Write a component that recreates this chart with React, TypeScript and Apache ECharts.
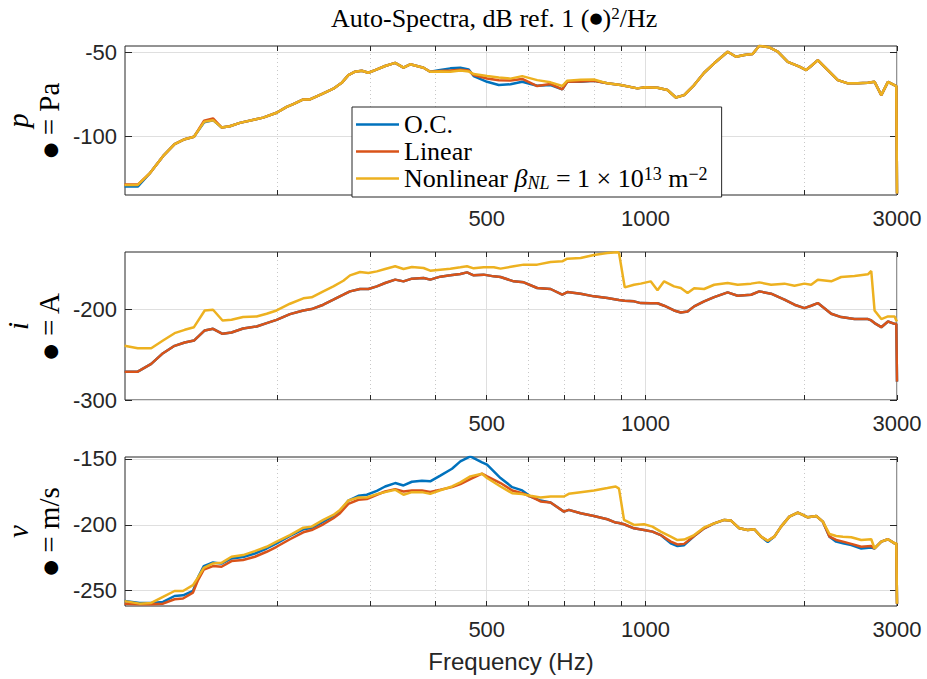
import React, { useEffect, useRef } from "react";
import * as echarts from "echarts";

// ---------- data (frequency in Hz, levels in dB) ----------
const xMajorTicks = [500, 1000, 3000];
const xMinorTicks = [200, 300, 400, 600, 700, 800, 900, 2000];

// Panel 1: pressure p
const pFreq = [102.8,108.9,114.7,121.6,127.9,133.7,139.2,145.5,151.3,157,162.8,170.1,181.6,188.3,199.7,208.7,214.8,224.4,231,243.2,255.9,265.4,273.2,281.3,289.7,298.2,307.1,320.8,335.2,347.6,357.9,379.4,390.6,408.2,426.5,445.6,462.1,472.2,500.7,526.9,554.6,583.8,623.3,660.7,695.3,710.7,753.4,798.5,846.8,897.4,965.6,993.9,1054,1101,1142,1184,1237,1292,1350,1432,1485,1540,1597,1644,1718,1782,1862,1959,2018,2062,2123,2218,2317,2421,2529,2642,2720,2801,2884,2991,3000];
const pOC = [-130,-130,-122.2,-111.9,-104.8,-101.8,-100.4,-91.8,-90.5,-94.8,-94.1,-92.1,-90.1,-89,-86.1,-82.6,-81,-78.2,-78.2,-75,-71.8,-68.3,-63.7,-61.7,-61.1,-62.3,-60.7,-58.3,-56.4,-59.3,-57.3,-59.3,-61.7,-60.7,-59.7,-59.3,-60.3,-64.3,-67.7,-69.6,-69.2,-67.7,-70,-69.6,-72.2,-67.7,-67.7,-67.1,-68.6,-69.6,-71.6,-71,-71.2,-72.6,-77,-75.6,-69.6,-62.3,-56.7,-49.8,-52.8,-51.8,-51.2,-46.3,-47.2,-49.8,-55.8,-58.7,-60.7,-58.3,-54.8,-60.7,-66.7,-68.6,-68.6,-68.3,-67.7,-75.6,-67.7,-70.2,-134.1];
const pLin = [-128.8,-128.8,-122.2,-111.9,-104.8,-101.8,-100.4,-90.8,-89.5,-94.8,-94.1,-92.1,-90.1,-89,-86.1,-82.6,-81,-78.2,-78.2,-75,-71.8,-68.3,-63.7,-61.7,-61.1,-62.3,-60.7,-58.3,-56.4,-59.3,-57.3,-59.3,-61.7,-61.2,-61,-60.5,-61,-63.7,-65.7,-66.7,-66.9,-66,-70.2,-69,-72.2,-67.7,-67.5,-67.1,-68.6,-69.6,-71.6,-71,-71.2,-72.6,-77,-75.6,-69.6,-62.3,-56.7,-49.8,-52.8,-51.8,-51.2,-46.3,-47.2,-49.8,-55.8,-58.7,-60.7,-58.3,-54.8,-60.7,-66.7,-68.6,-68.6,-68.3,-67.7,-75.6,-67.7,-70.2,-134.1];
const pNL = [-129,-129,-122.2,-111.9,-104.8,-101.8,-100.4,-91.5,-90.5,-94.8,-94.1,-92.1,-90.1,-89,-86.1,-82.6,-81,-78.2,-78.2,-75,-71.8,-68.3,-63.7,-61.7,-61.1,-62.3,-60.7,-58.3,-56.4,-59.3,-57.3,-59.3,-61.7,-61.5,-61.7,-61,-61.5,-63.1,-64.3,-65.1,-65.8,-64.3,-66.7,-68,-70.2,-67,-66.5,-66.3,-68.6,-69.6,-71.6,-71,-71.2,-72.6,-77,-75.6,-69.6,-62.3,-56.7,-49.8,-52.8,-51.8,-51.2,-46.3,-47.2,-49.8,-55.8,-58.7,-60.7,-58.3,-54.8,-60.7,-66.7,-68.6,-68.6,-68.3,-67.7,-75.6,-67.7,-70.2,-134.1];
const pYTicks = [-100, -50];

// Panel 2: current i (O.C. coincides with Linear)
const iFreq = [102.8,108.9,115.5,121.6,127.9,133.7,139.2,145.9,151.3,157.7,164.0,172.5,183.0,191.2,199.7,211.7,224.4,232.7,244.9,255.9,267.3,275.2,287.5,298.2,309.4,320.8,335.2,347.6,360.6,379.4,390.6,408.2,426.5,445.6,458.7,472.2,493.3,515.7,531,562.7,587.7,623.3,660.7,695.3,710.7,753.4,798.5,846.8,884.6,890.9,913.5,951.3,979.7,1023,1054,1085,1133,1167,1202,1237,1292,1350,1432,1496,1586,1644,1731,1835,1917,2002,2062,2123,2251,2351,2492,2642,2681,2720,2801,2884,2969,2991,3000];
const iLin = [-268.8,-268.8,-260.3,-248.5,-240.4,-236.8,-234.6,-223.5,-221.7,-227.2,-225.7,-221.3,-219.1,-215.4,-211.8,-205.5,-201.5,-200,-195.2,-189.7,-184.2,-180.5,-177.9,-177.9,-175,-171.3,-167.6,-169.5,-166.5,-165.8,-167.6,-164.3,-162.9,-161.4,-159.6,-162.9,-162.1,-164,-164.7,-169.5,-170.6,-176.8,-177.9,-184.2,-181.3,-183.1,-186,-187.9,-189.7,-190,-190.8,-191.5,-193.4,-193.6,-193.6,-196.3,-201.5,-203.7,-202.6,-197,-191.5,-186.8,-181.6,-185.3,-184.2,-180.5,-183.1,-189.7,-195.2,-198.9,-196.3,-193.4,-205.1,-208.8,-211,-211,-212.5,-215.4,-219.9,-213.6,-216.2,-216.5,-279.8];
const iOC = [...iLin];
const iNL = [-240.4,-243,-243,-234.6,-226.5,-222.8,-219.9,-201.5,-200.7,-212.5,-211.8,-208.8,-208.1,-205.1,-201.5,-194.1,-188.2,-187.1,-180.5,-175,-168.8,-162.9,-159.2,-160.3,-158.5,-155.9,-152.9,-155.9,-153.7,-154.8,-157.7,-156.6,-155.5,-154,-152.9,-155.2,-154,-154,-155.5,-152.9,-151.1,-151.1,-148.2,-147.4,-144.5,-143.8,-140.4,-138.2,-137.5,-138.2,-176.1,-173.2,-172,-169.5,-179.4,-169.5,-175,-176.8,-182.4,-177,-177.9,-173.2,-171.3,-173.2,-172,-170.6,-173.2,-172,-174.3,-172,-173.2,-167.6,-169.5,-164.7,-163.6,-161.8,-158.1,-201.5,-211,-208.1,-208.1,-212.5,-213.6];
const iYTicks = [-300, -200];

// Panel 3: velocity v
const vFreq = [102.8,109.8,115.5,121.6,127.9,132.7,138.6,141.7,145.3,151.3,157,164.0,172.5,181.6,191.2,199.7,211.7,224.4,232.7,244.9,255.9,263.4,273.2,285.4,296.1,309.4,320.8,335.2,347.6,360.6,376.7,390.6,408.2,429.6,445.6,465.4,489.8,500.7,531,558.7,583.8,605.2,632.4,660.7,700.5,715.5,753.4,798.5,846.8,878.1,890.9,910.6,951.3,993.9,1031,1069,1117,1150,1184,1237,1292,1350,1411,1453,1507,1563,1609,1657,1706,1756,1808,1875,1945,1988,2032,2108,2170,2234,2300,2369,2457,2566,2681,2720,2801,2884,2969,2991,3000];
const vOC = [-257.9,-259.4,-259.4,-258.6,-254.1,-253.6,-250.3,-240,-231.4,-228.6,-229.5,-225.6,-224.5,-221.8,-218,-214.1,-208.5,-203.4,-202.5,-197.6,-193.3,-190,-181.6,-178,-177.2,-174.2,-170.9,-168.3,-170.1,-167.3,-166.5,-167,-162.6,-157.4,-151.8,-148,-152.5,-154.3,-164.5,-171.4,-173.9,-178.5,-181.6,-183.1,-190,-188.7,-191.2,-193.3,-195.8,-198.3,-198.6,-199.6,-202.7,-203.9,-205.2,-207.8,-214.1,-216.2,-215.5,-208.5,-202.7,-198.9,-196.3,-196.8,-202.7,-203.9,-203.4,-209,-213,-209,-201.4,-193.8,-190.7,-192.5,-194.3,-193.3,-197.6,-209,-212.8,-214,-215.4,-218,-217.3,-218,-212.8,-211,-214.1,-214.1,-260];
const vLin = [-259.9,-260.4,-260.4,-259.9,-256.6,-256,-251.5,-242,-234,-231.4,-231.9,-227.6,-226.8,-224.3,-220.5,-216.7,-211,-205.7,-204,-199.6,-195,-191.2,-184.1,-181,-180.5,-177.2,-174.7,-172.9,-174.7,-173.9,-173.9,-175,-173.4,-171.4,-169.1,-165.3,-161.2,-163.2,-168.3,-173.9,-176,-178.5,-182.3,-183.1,-190,-188.7,-191.2,-193.3,-195.8,-198.3,-198.6,-199.6,-202.7,-203.9,-205.2,-207.8,-212.8,-214.9,-214.5,-208.5,-202.7,-198.9,-196.3,-196.8,-202.7,-203.9,-203.4,-209,-212.1,-209,-201.4,-193.8,-190.7,-192.5,-194.3,-193.3,-197.6,-209,-211.5,-212.8,-214.5,-216.7,-216.2,-218,-212.8,-211,-214.1,-214.1,-260];
const vNL = [-258,-259.9,-259.4,-254.8,-250.3,-250.3,-245.9,-240,-232.7,-229.4,-228.9,-224.3,-223,-220,-216.7,-212.8,-207.8,-202.2,-201.4,-196.3,-192.5,-188.7,-181.6,-179.3,-179.3,-176.7,-175.2,-173.4,-177.2,-175.2,-175.2,-176.5,-173.8,-170.9,-167.8,-163.2,-161.2,-164.5,-170.9,-176,-176.7,-178,-179.3,-178.5,-178.5,-176.5,-175.2,-174,-172.1,-170.9,-172.5,-196.3,-200.1,-199.6,-201.4,-205.2,-209,-211.6,-211.2,-207.8,-202,-198.9,-196.3,-196.8,-202.7,-203.9,-203.4,-209,-212.1,-209,-201.4,-193.8,-190.7,-192.5,-194.3,-193.3,-197.6,-207,-208.5,-209,-209.5,-211.6,-211,-218,-212.8,-211,-214.1,-214.1,-260];
const vYTicks = [-250, -200, -150];

const seriesNames = ["O.C.", "Linear", "Nonlinear"];
const colors = ["#0072BD", "#D95319", "#EDB120"];

const panels = [
  { top: 46, height: 149, yMin: -135, yMax: -46.4, yTicks: pYTicks, freq: pFreq, vals: [pOC, pLin, pNL], sym: "p", unit: "Pa" },
  { top: 252, height: 148, yMin: -300, yMax: -137.2, yTicks: iYTicks, freq: iFreq, vals: [iOC, iLin, iNL], sym: "i", unit: "A" },
  { top: 457, height: 149, yMin: -261.7, yMax: -148.5, yTicks: vYTicks, freq: vFreq, vals: [vOC, vLin, vNL], sym: "v", unit: "m/s" },
];

const AX = "#262626";
const SANS = "'Liberation Sans', Arial, Helvetica, sans-serif";
const SERIF = "'Liberation Serif', 'Times New Roman', serif";

export default function App() {
  const ref = useRef<HTMLDivElement>(null);
  useEffect(() => {
    document.body.style.margin = "0";
    const chart = echarts.init(ref.current!, null, { renderer: "svg" });
    const grids: any[] = [];
    const xAxes: any[] = [];
    const yAxes: any[] = [];
    const series: any[] = [];
    const graphics: any[] = [];
    panels.forEach((pn, k) => {
      grids.push({ left: 125, width: 772, top: pn.top, height: pn.height, show: true, borderColor: AX, borderWidth: 1, backgroundColor: "transparent" });
      const baseX = { type: "log", logBase: 10, gridIndex: k, min: 103, max: 3000, axisLine: { show: false } };
      xAxes.push({
        ...baseX, position: "bottom",
        axisLabel: { show: true, customValues: xMajorTicks, formatter: (v: number) => String(Math.round(v)), fontFamily: SANS, fontSize: 22, color: AX, margin: 12 },
        axisTick: { show: true, customValues: xMajorTicks, inside: true, length: 5, lineStyle: { color: AX } },
        splitLine: { show: true, lineStyle: { color: "#dfdfdf", width: 1, type: "solid" } },
        ...(k === 2 ? { name: "Frequency (Hz)", nameLocation: "middle", nameGap: 43, nameTextStyle: { fontFamily: SANS, fontSize: 24, color: AX } } : {}),
      });
      xAxes.push({
        ...baseX, position: "bottom",
        axisLabel: { show: false },
        axisTick: { show: true, customValues: xMinorTicks, inside: true, length: 5, lineStyle: { color: AX } },
        splitLine: { show: true, lineStyle: { color: "#c8c8c8", width: 1, type: [1, 3] } },
      });
      xAxes.push({
        ...baseX, position: "top",
        axisLabel: { show: false },
        axisTick: { show: true, customValues: [...xMinorTicks, ...xMajorTicks], inside: true, length: 5, lineStyle: { color: AX } },
        splitLine: { show: false },
      });
      const baseY = { type: "value", gridIndex: k, min: pn.yMin, max: pn.yMax, axisLine: { show: false } };
      yAxes.push({
        ...baseY, position: "left",
        axisLabel: { show: true, customValues: pn.yTicks, fontFamily: SANS, fontSize: 22, color: AX, margin: 8 },
        axisTick: { show: true, customValues: pn.yTicks, inside: true, length: 7, lineStyle: { color: AX } },
        splitLine: { show: true, lineStyle: { color: "#dfdfdf", width: 1 } },
      });
      yAxes.push({
        ...baseY, position: "right",
        axisLabel: { show: false },
        axisTick: { show: true, customValues: pn.yTicks, inside: true, length: 7, lineStyle: { color: AX } },
        splitLine: { show: false },
      });
      pn.vals.forEach((vals, s) => {
        series.push({
          type: "line", name: seriesNames[s], xAxisIndex: k * 3, yAxisIndex: k * 2,
          data: pn.freq.map((f, i) => [f, vals[i]]),
          showSymbol: false, symbol: "none", color: colors[s],
          lineStyle: { width: 2.5, color: colors[s] },
        });
      });
      const cy = pn.top + pn.height / 2;
      graphics.push({
        type: "text", x: 18, y: cy, rotation: Math.PI / 2,
        style: { text: pn.sym, fontFamily: SERIF, fontStyle: "italic", fontSize: 29, fill: "#000", align: "center", verticalAlign: "middle" },
      });
      graphics.push({
        type: "text", x: 49, y: cy, rotation: Math.PI / 2,
        style: {
          text: "{b|●} = " + pn.unit, fontFamily: SERIF, fontSize: 29, fill: "#000", align: "center", verticalAlign: "middle",
          rich: { b: { fontFamily: "'DejaVu Sans'", fontSize: 18, fill: "#000" } },
        },
      });
    });

    chart.setOption({
      animation: false,
      title: {
        text: "Auto-Spectra, dB ref. 1 ({b|●}){sup|2}/Hz",
        left: 326, top: 0,
        textStyle: {
          fontFamily: SERIF, fontSize: 26, fontWeight: "normal", color: "#000",
          rich: {
            b: { fontFamily: "'DejaVu Sans'", fontSize: 15, color: "#000" },
            sup: { fontFamily: SERIF, fontSize: 17, color: "#000", verticalAlign: "top" },
          },
        },
      },
      legend: {
        data: seriesNames, orient: "vertical", left: 352, top: 107,
        icon: "rect", itemWidth: 43, itemHeight: 2.5, itemGap: 0,
        padding: [4, 14, 5, 4], backgroundColor: "#fff", borderColor: AX, borderWidth: 1, borderRadius: 0,
        selectedMode: false,
        formatter: (name: string) => (name === "Nonlinear" ? "Nonlinear {it|β}{sub|NL} = 1 × 10{sup|13} m{sup|−2}" : name),
        textStyle: {
          fontFamily: SERIF, fontSize: 26, color: "#000", lineHeight: 27,
          rich: {
            it: { fontFamily: SERIF, fontStyle: "italic", fontSize: 26, color: "#000", lineHeight: 27 },
            sub: { fontFamily: SERIF, fontStyle: "italic", fontSize: 18, color: "#000", verticalAlign: "bottom", lineHeight: 27 },
            sup: { fontFamily: SERIF, fontSize: 18, color: "#000", verticalAlign: "top", lineHeight: 27 },
          },
        },
      },
      grid: grids,
      xAxis: xAxes,
      yAxis: yAxes,
      series,
      graphic: graphics,
    });
    return () => chart.dispose();
  }, []);
  return <div ref={ref} style={{ width: 927, height: 679 }} />;
}
